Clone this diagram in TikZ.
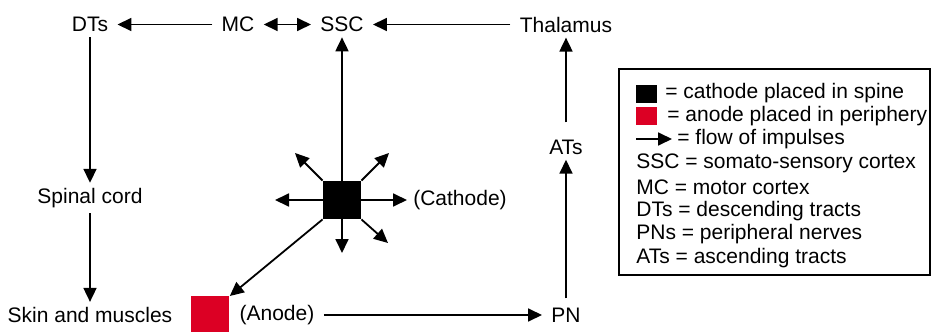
\documentclass[tikz,border=0pt]{standalone}
\usepackage{fontspec}
\setmainfont{Liberation Sans}
\usetikzlibrary{arrows.meta}
\definecolor{anodered}{RGB}{220,0,36}
\tikzset{
  tip/.tip={Triangle[length=7pt,width=6.5pt]},
  flow/.style={-tip,line width=0.9pt},
  lbl/.style={font=\fontsize{10.5}{12.5}\selectfont,inner xsep=4.5pt,inner ysep=2.5pt},
  legtext/.style={font=\fontsize{10.5}{12.5}\selectfont,inner sep=1pt,anchor=west},
  electrode/.style={minimum size=19pt,inner sep=0pt},
}
\begin{document}
\begin{tikzpicture}[x=0.5pt,y=-0.5pt]
  \useasboundingbox (0,0) rectangle (934,332);
  \draw
    (90,24.5) node[lbl] (dts){DTs}
    (238,24.5) node[lbl] (mc){MC}
    (342,24.5) node[lbl] (ssc){SSC}
    (566,24.5) node[lbl] (thal){Thalamus}
    (90,198) node[lbl] (spinal){Spinal cord}
    (90,315) node[lbl] (skin){Skin and muscles}
    (566,147) node[lbl] (ats){ATs}
    (566,315) node[lbl] (pn){PN}
    (460,200) node[lbl] (cathlbl){(Cathode)}
    (277,315) node[lbl] (anodelbl){(Anode)};
  \node[electrode,fill=black] (cath) at (342,200) {};
  \node[electrode,fill=anodered,anchor=north west] (anode) at (191,296) {};
  % free ends of the cathode spray
  \coordinate (ul) at (295,153);
  \coordinate (ur) at (389,153);
  \coordinate (dr) at (388,243);
  \coordinate (lf) at (275,200);
  \coordinate (rt) at (407,200);
  \coordinate (dn) at (342,253);
  \begin{scope}[flow]
    \draw (mc) -- (dts);
    \draw[tip-tip] (mc) -- (ssc);
    \draw (thal) -- (ssc);
    \draw (dts) -- (spinal);
    \draw (spinal) -- (skin);
    \draw (cath) -- (ssc);
    \draw[shorten <=2pt] (pn) -- (ats);
    \draw[shorten <=6pt] (ats) -- (thal);
    \draw (anodelbl) -- (pn);
    \draw (cath.south west) -- (anode.north east);
    \draw (cath.north west) -- (ul);
    \draw (cath.north east) -- (ur);
    \draw (cath.south east) -- (dr);
    \draw (cath.west) -- (lf);
    \draw (cath.east) -- (rt);
    \draw (cath.south) -- (dn);
  \end{scope}
  % legend
  \draw[line width=0.75pt] (619,69) rectangle (930,275);
  \node[minimum width=10.5pt,minimum height=9pt,inner sep=0pt,fill=black] (legcath) at (646.5,94) {};
  \node[legtext] (l1) at (663,93) {= cathode placed in spine};
  \node[minimum width=10.5pt,minimum height=9pt,inner sep=0pt,fill=anodered] (leganode) at (646.5,115.5) {};
  \node[legtext] (l2) at (665,116) {= anode placed in periphery};
  \coordinate (legarr) at (636,139);
  \node[legtext] (l3) at (675,139) {= flow of impulses};
  \draw[flow,shorten >=1.5pt] (legarr) -- (l3.west);
  \node[legtext] (l4) at (634,163) {SSC = somato-sensory cortex};
  \node[legtext] (l5) at (634,187) {MC = motor cortex};
  \node[legtext] (l6) at (634,211) {DTs = descending tracts};
  \node[legtext] (l7) at (634,234) {PNs = peripheral nerves};
  \node[legtext] (l8) at (634,258) {ATs = ascending tracts};
\end{tikzpicture}
\end{document}
